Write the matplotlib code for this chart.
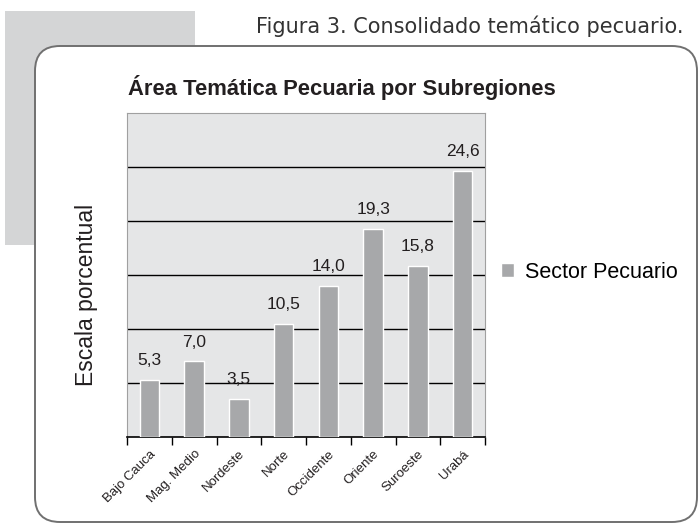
import matplotlib
matplotlib.use("Agg")
import matplotlib.pyplot as plt
from matplotlib.patches import FancyBboxPatch, Rectangle

# Data
subregiones = ['Bajo Cauca', 'Mag. Medio', 'Nordeste', 'Norte', 'Occidente',
               'Oriente', 'Suroeste', 'Urabá']
valores = [5.3, 7.0, 3.5, 10.5, 14.0, 19.3, 15.8, 24.6]
etiquetas = ['5,3', '7,0', '3,5', '10,5', '14,0', '19,3', '15,8', '24,6']
serie = 'Sector Pecuario'

W, H = 698, 523
fig = plt.figure(figsize=(W / 100, H / 100), dpi=100)
fig.patch.set_facecolor('white')

# background layer in pixel coordinates
bg = fig.add_axes([0, 0, 1, 1], zorder=0)
bg.set_xlim(0, W)
bg.set_ylim(H, 0)
bg.axis('off')
bg.add_patch(Rectangle((5, 11), 190, 234, facecolor='#d4d5d6', edgecolor='none'))
bg.add_patch(FancyBboxPatch((35 + 25, 46 + 25), 662 - 50, 476 - 50,
                            boxstyle='round,pad=25', facecolor='white',
                            edgecolor='#707070', linewidth=1.4))
bg.text(683, 26, 'Figura 3. Consolidado temático pecuario.', ha='right', va='center',
        fontsize=15, color='#333333', family='DejaVu Sans')
bg.text(128, 88, 'Área Temática Pecuaria por Subregiones', ha='left', va='center',
        fontsize=15.8, fontweight='bold', color='#231f20', family='Liberation Sans')

# main chart
ax = fig.add_axes([127 / W, 1 - 437 / H, (485 - 127) / W, (437 - 113) / H], zorder=1)
ax.set_facecolor('#e5e6e7')
x = range(len(subregiones))
bars = ax.bar(x, valores, width=0.44, color='#a7a8aa', edgecolor='white',
              linewidth=1, zorder=3, label=serie)
ax.set_ylim(0, 30)
ax.set_xlim(-0.5, len(subregiones) - 0.5)
ax.set_yticks([5, 10, 15, 20, 25])
ax.set_yticklabels([])
ax.tick_params(axis='y', length=0)
ax.grid(axis='y', color='black', linewidth=1, zorder=1)

for xi, v, lab in zip(x, valores, etiquetas):
    ax.text(xi, v + 1.1, lab, ha='center', va='bottom', fontsize=12.5,
            color='#231f20', family='Liberation Sans', zorder=4)

ax.set_xticks(list(x))
ax.set_xticklabels(subregiones, rotation=45, ha='right', rotation_mode='anchor',
                   fontsize=9.5, family='Liberation Sans', color='#231f20')
ax.tick_params(axis='x', which='major', length=0, pad=8)
ax.set_xticks([i - 0.5 for i in range(len(subregiones) + 1)], minor=True)
ax.tick_params(axis='x', which='minor', length=6, width=1, color='black', direction='out')

for s in ['left', 'top', 'right']:
    ax.spines[s].set_color('#a0a0a0')
ax.spines['bottom'].set_color('black')
ax.spines['bottom'].set_linewidth(1.2)

ax.set_ylabel('Escala porcentual', fontsize=16.5, family='Liberation Sans',
              color='#231f20')
ax.yaxis.set_label_coords(-29 / 358, (437 - 295) / 324)

leg = fig.legend(handles=[bars], labels=[serie], loc='center left',
                 bbox_to_anchor=(501 / W, 1 - 272 / H), frameon=False,
                 borderpad=0, borderaxespad=0,
                 prop={'family': 'Liberation Sans', 'size': 15.5},
                 handlelength=0.6, handleheight=0.6, handletextpad=0.5)

fig.savefig('out.png', dpi=100)
